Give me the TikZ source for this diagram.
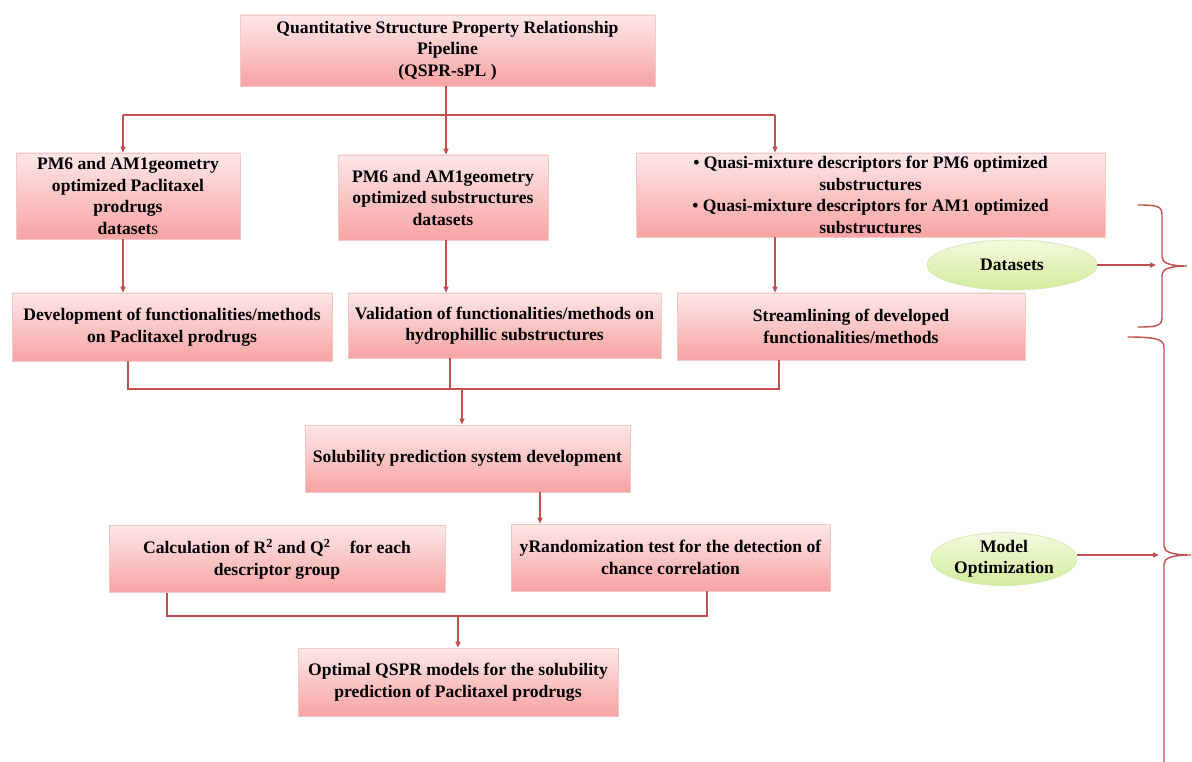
\documentclass[tikz,border=0pt]{standalone}
\usepackage{fontspec}
\setmainfont{Liberation Serif}
\usetikzlibrary{arrows.meta,shapes.geometric,calc}

\definecolor{linered}{HTML}{C0504D}
\definecolor{boxtop}{HTML}{FDE7E7}
\definecolor{boxbot}{HTML}{F8A3A3}
\definecolor{boxedge}{HTML}{F3C8C8}
\definecolor{elltop}{HTML}{F3FADF}
\definecolor{ellbot}{HTML}{D2EC9C}
\definecolor{elledge}{HTML}{D8EAB8}

\tikzset{
  stage/.style={rectangle, draw=boxedge, line width=0.8pt,
    top color=boxtop, bottom color=boxbot, align=center,
    font=\bfseries\fontsize{17.6}{21.5}\selectfont, inner sep=1pt},
  tag/.style={ellipse, draw=elledge, line width=0.8pt,
    top color=elltop, bottom color=ellbot, align=center,
    font=\bfseries\fontsize{17.6}{21.5}\selectfont, inner sep=0pt},
  link/.style={draw=linered, line width=1.4pt},
  arr/.style={link, -{Triangle[length=6pt,width=5pt]}},
  brace/.style={draw=linered, line width=1.4pt, line cap=round},
}

\begin{document}
\begin{tikzpicture}[x=1pt,y=-1pt]
\fill[white] (0,0) rectangle (1192,762);
\path[use as bounding box] (0,0) rectangle (1192,762);

% pipeline stages
\node[stage, minimum width=415pt, minimum height=71pt] (top) at (447.5,50.5)
  {Quantitative Structure Property Relationship\\Pipeline\\(QSPR-sPL )};

\node[stage, minimum width=224pt, minimum height=86pt] (b1) at (128,196)
  {PM6 and AM1geometry\\optimized Paclitaxel\\prodrugs\\dataset{\mdseries s}};
\node[stage, minimum width=210pt, minimum height=85pt] (b2) at (443,197.5)
  {PM6 and AM1geometry\\optimized substructures\\datasets};
\node[stage, minimum width=469pt, minimum height=84pt] (b3) at (870.5,195)
  {\textbullet\ Quasi-mixture descriptors for PM6 optimized\\substructures\\
   \textbullet\ Quasi-mixture descriptors for AM1 optimized\\substructures};

\node[stage, minimum width=320pt, minimum height=68pt] (b4) at (172,327)
  {Development of functionalities/methods\\on Paclitaxel prodrugs};
\node[stage, minimum width=313pt, minimum height=65pt] (b5) at (504.5,325.5)
  {Validation of functionalities/methods on\\hydrophillic substructures};
\node[stage, minimum width=348pt, minimum height=67pt] (b6) at (851,326.5)
  {Streamlining of developed\\functionalities/methods};

\node[stage, minimum width=325pt, minimum height=67pt] (b7) at (467.5,458.5)
  {Solubility prediction system development};

\node[stage, minimum width=336pt, minimum height=67pt] (b8) at (277,559)
  {Calculation of R\textsuperscript{2} and Q\textsuperscript{2}\hspace{1.1em}for each\\descriptor group};
\node[stage, minimum width=319pt, minimum height=67pt] (b9) at (670.5,557.5)
  {yRandomization test for the detection of\\chance correlation};

\node[stage, minimum width=320pt, minimum height=68pt] (b10) at (458,682)
  {Optimal QSPR models for the solubility\\prediction of Paclitaxel prodrugs};

% phase labels
\node[tag, minimum width=170pt, minimum height=50pt] (ds) at (1012,265) {Datasets};
\node[tag, minimum width=146pt, minimum height=50pt] (mo) at (1004,559) {Model\\Optimization};

% junction points
\coordinate (jl) at (123,115);
\coordinate (jt) at (446,115);
\coordinate (jr) at (775,115);
\coordinate (m1) at (128,389);
\coordinate (m2) at (450,389);
\coordinate (m3) at (779,389);
\coordinate (mc) at (462,389);
\coordinate (k1) at (540,508);
\coordinate (n1) at (167,616);
\coordinate (n2) at (707,616);
\coordinate (nc) at (458,616);
\coordinate (dsend) at (1156,265);
\coordinate (moend) at (1159,555);

% top fan-out
\draw[link] (top.south -| jt) -- (jt);
\draw[link] (jl) -- (jr);
\draw[arr] (jl) -- (jl |- b1.north);
\draw[arr] (jt) -- (jt |- b2.north);
\draw[arr] (jr) -- (jr |- b3.north);

% datasets to methods
\draw[arr] (jl |- b1.south) -- (jl |- b4.north);
\draw[arr] (jt |- b2.south) -- (jt |- b5.north);
\draw[arr] (jr |- b3.south) -- (jr |- b6.north);

% methods merge into system development
\draw[link] (m1 |- b4.south) -- (m1) -- (m3) -- (m3 |- b6.south);
\draw[link] (m2 |- b5.south) -- (m2);
\draw[arr] (mc) -- (mc |- b7.north);

% system development to validation
\draw[arr] (k1 |- b7.south) -- (k1 |- b9.north);

% validation merge into optimal models
\draw[link] (n1 |- b8.south) -- (n1) -- (n2) -- (n2 |- b9.south);
\draw[arr] (nc) -- (nc |- b10.north);

% phase arrows
\draw[arr] (ds.east) -- (dsend);
\draw[arr] (mo.east |- moend) -- (moend);

% braces
\draw[brace] (1138,205) .. controls (1156,205) and (1162,206) .. (1162,214)
  -- (1162,257) .. controls (1162,263) and (1170,266) .. (1187,266)
  .. controls (1170,266) and (1162,269) .. (1162,275)
  -- (1162,318) .. controls (1162,326) and (1156,327) .. (1138,327);
\draw[brace] (1128,337) .. controls (1155,337) and (1164,339) .. (1164,347)
  -- (1164,546) .. controls (1164,552) and (1172,555) .. (1191,555)
  .. controls (1172,555) and (1164,558) .. (1164,564)
  -- (1164,762);
\end{tikzpicture}
\end{document}
